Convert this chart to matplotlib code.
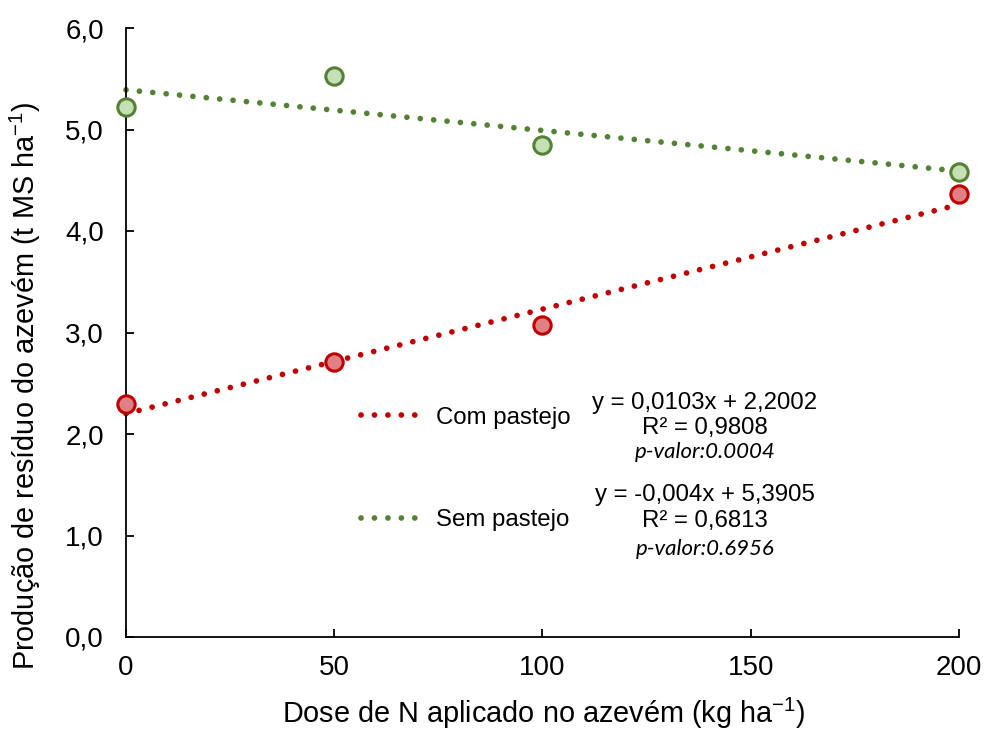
import matplotlib
matplotlib.use("Agg")
import matplotlib.pyplot as plt
from matplotlib.lines import Line2D
import numpy as np

plt.rcParams['font.family'] = ['Liberation Sans', 'DejaVu Sans']

doses = [0, 50, 100, 200]
com_pastejo = [2.30, 2.71, 3.07, 4.36]
sem_pastejo = [5.22, 5.53, 4.85, 4.58]
com_coef = (0.0103, 2.2002)
sem_coef = (-0.004, 5.3905)
series_labels = ["Com pastejo", "Sem pastejo"]
eq_com = ["y = 0,0103x + 2,2002", "R² = 0,9808", "p-valor:0.0004"]
eq_sem = ["y = -0,004x + 5,3905", "R² = 0,6813", "p-valor:0.6956"]
xticks = [0, 50, 100, 150, 200]
yticks = [0, 1, 2, 3, 4, 5, 6]
ytick_labels = ["0,0", "1,0", "2,0", "3,0", "4,0", "5,0", "6,0"]

red_edge = "#C00000"
red_face = "#E07F84"
green_edge = "#548235"
green_face = "#C5E0B4"

fig = plt.figure(figsize=(9.87, 7.29), dpi=100)
ax = fig.add_axes([126/987, 1-637/729, (959-126)/987, (637-28)/729])

LW = 4.1
dot_style = (0, (0.01, 2.35))
xs = np.array([0, 200])
for (m, b), col in [(com_coef, red_edge), (sem_coef, green_edge)]:
    ax.plot(xs, m*xs + b, color=col, lw=LW, linestyle=dot_style,
            dash_capstyle='round', clip_on=False, zorder=2)

ax.plot(doses, com_pastejo, 'o', ms=12.5, mfc=red_face, mec=red_edge, mew=2.2,
        clip_on=False, zorder=3)
ax.plot(doses, sem_pastejo, 'o', ms=12.5, mfc=green_face, mec=green_edge, mew=2.2,
        clip_on=False, zorder=3)

handles = [Line2D([0], [0], color=red_edge, lw=LW, linestyle=dot_style, dash_capstyle='round'),
           Line2D([0], [0], color=green_edge, lw=LW, linestyle=dot_style, dash_capstyle='round')]
leg = ax.legend(handles, series_labels, loc='upper left', bbox_to_anchor=(0.27, 0.394),
                frameon=False, fontsize=17.3, handlelength=2.4, labelspacing=3.35,
                handletextpad=0.75, borderaxespad=0)

ax.set_xlim(0, 200)
ax.set_ylim(0, 6)
ax.set_xticks(xticks)
ax.set_yticks(yticks)
ax.set_yticklabels(ytick_labels)
ax.tick_params(direction='in', length=6, width=1.3, labelsize=20)
ax.tick_params(axis='y', pad=16)
ax.tick_params(axis='x', pad=13)
for s in ['top', 'right']:
    ax.spines[s].set_visible(False)
for s in ['left', 'bottom']:
    ax.spines[s].set_linewidth(1.3)

cx = (705-126)/833
def frac(py):
    return (637-py)/609
for eq, ys in [(eq_com, (403, 428, 452)), (eq_sem, (495, 521, 549))]:
    ax.text(cx, frac(ys[0]), eq[0], transform=ax.transAxes, ha='center', va='center', fontsize=17.3)
    ax.text(cx, frac(ys[1]), eq[1], transform=ax.transAxes, ha='center', va='center', fontsize=17.3)
    ax.text(cx, frac(ys[2]), eq[2], transform=ax.transAxes, ha='center', va='center', fontsize=16,
            style='italic', family=['Lato', 'DejaVu Sans'])

ax.set_xlabel(r"Dose de N aplicado no azevém (kg ha$^{\mathregular{-1}}$)", fontsize=20.8)
ax.set_ylabel(r"Produção de resíduo do azevém (t MS ha$^{\mathregular{-1}}$)", fontsize=20.8)
ax.xaxis.label.set_va('center')
ax.yaxis.label.set_va('center')
ax.xaxis.set_label_coords(0.501, frac(713))
ax.yaxis.set_label_coords((25-126)/833, frac(386))

fig.savefig("out.png", dpi=100)
